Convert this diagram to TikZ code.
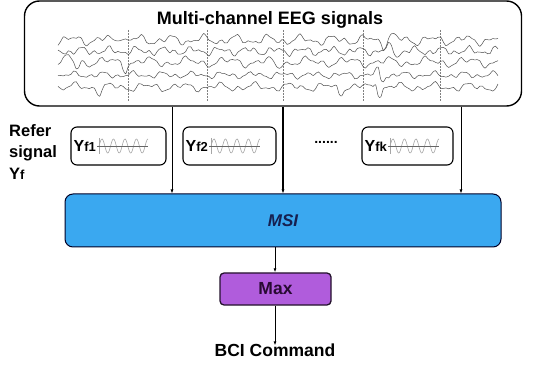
\documentclass[tikz,border=0pt]{standalone}
\usepackage{fontspec}
\setmainfont{Liberation Sans}
\usetikzlibrary{arrows.meta,calc}

\definecolor{msiblue}{RGB}{58,168,240}
\definecolor{maxpurple}{RGB}{176,92,220}
\definecolor{msitext}{RGB}{22,32,80}
\definecolor{maxtext}{RGB}{40,10,50}
\definecolor{eegline}{RGB}{80,80,80}

\tikzset{
  bigbox/.style={draw=black, line width=1.4pt, rounded corners=15pt, inner sep=0pt},
  refbox/.style={draw=black, line width=1.1pt, rounded corners=6pt, inner sep=0pt,
                 minimum width=93pt, minimum height=38pt},
  msibox/.style={draw=black!85!blue, line width=1pt, rounded corners=8pt, fill=msiblue,
                 inner sep=0pt},
  maxbox/.style={draw=black!80!maxpurple, line width=1.3pt, rounded corners=4pt, fill=maxpurple,
                 inner sep=0pt},
  lbl/.style={font=\fontsize{17}{20}\selectfont\bfseries, inner sep=0pt},
  yname/.style={font=\fontsize{16}{18}\selectfont\bfseries, inner sep=0pt, anchor=west},
  arr/.style={-{Latex[length=4pt,width=3pt]}, line width=0.9pt},
  trace/.style={eegline, line width=0.5pt},
  marker/.style={gray, line width=0.5pt, densely dotted},
  wave/.style={black!35, line width=0.6pt},
  axisline/.style={black!60, line width=0.7pt},
  declare function={
    sp(\a,\c,\w) = max(0, 1 - abs(\a - \c)/\w);
    wv(\a,\f,\p) = sin(mod(\f*\a + \p, 6.283185) r);
  },
}

\newcommand{\ysig}[2]{Y\raisebox{-0.5pt}{\fontsize{13}{13}\selectfont #1#2}}

\begin{document}
\begin{tikzpicture}[x=1pt, y=-1pt]
  \useasboundingbox (0,0) rectangle (541,366);

  % EEG panel
  \node[bigbox, minimum width=497pt, minimum height=105pt] (eeg) at (273,53.5) {};
  \node[lbl, font=\fontsize{18}{20}\selectfont\bfseries] (title) at (270,20) {Multi-channel EEG signals};

  % time markers
  \foreach \mx in {128,207,283,363,440}
    \draw[marker] (\mx,30) -- (\mx,101);

  % five EEG channels
  \draw[trace] plot[smooth, domain=58:498, samples=170]
    (\x, {40 - 3.2*wv(\x,0.192,0.3) - 2.2*wv(\x,0.401,1.2) - 1.3*wv(\x,0.716,0.2) - 6*sp(\x,120,5) - 6*sp(\x,392,5) + 5*sp(\x,384,4)});
  \draw[trace] plot[smooth, domain=58:498, samples=170]
    (\x, {51 - 2.6*wv(\x,0.227,1.9) - 2*wv(\x,0.471,0.7) - 1.2*wv(\x,0.785,3.5) - 5*sp(\x,390,5) + 5*sp(\x,398,4)});
  \draw[trace] plot[smooth, domain=58:498, samples=170]
    (\x, {62 - 3*wv(\x,0.157,3.5) - 2.3*wv(\x,0.367,2.6) - 1.3*wv(\x,0.681,1.6) + 7*sp(\x,77,4) + 7*sp(\x,125,4) + 6*sp(\x,277,5) - 5*sp(\x,69,4)});
  \draw[trace] plot[smooth, domain=58:498, samples=170]
    (\x, {75 - 2*wv(\x,0.209,5.2) - 1.6*wv(\x,0.436,0.3) - 1*wv(\x,0.750,2.1) - 6*sp(\x,378,4) + 8*sp(\x,382,4)});
  \draw[trace] plot[smooth, domain=58:498, samples=170]
    (\x, {87 - 2.6*wv(\x,0.175,1.0) - 2*wv(\x,0.384,4.4) - 1.2*wv(\x,0.698,5.2) + 8*sp(\x,340,4) + 10*sp(\x,380,4) - 7*sp(\x,376,3) + 6*sp(\x,100,5)});

  % reference signal label
  \node[lbl, align=left, anchor=north west, font=\fontsize{16.5}{21.5}\selectfont\bfseries]
    (refer) at (9,124) {Refer\\signal\\Y\raisebox{-0.5pt}{\fontsize{13}{13}\selectfont f}};

  % reference signal boxes
  \node[refbox, minimum width=95pt] (r1) at (118.5,146) {};
  \node[refbox] (r2) at (229.5,146) {};
  \node[refbox, minimum width=91pt] (r3) at (407.5,146) {};
  \node[yname] (r1t) at ([xshift=3pt]r1.west) {\ysig{f}{1}};
  \node[yname] (r2t) at ([xshift=3pt]r2.west) {\ysig{f}{2}};
  \node[yname] (r3t) at ([xshift=3pt]r3.west) {\ysig{f}{k}};
  \node[lbl, font=\fontsize{14}{16}\selectfont\bfseries] (dots) at (326,142) {......};

  \foreach \t/\b in {r1t/r1, r2t/r2, r3t/r3} {
    \begin{scope}[shift={(\t.east |- \b.center)}]
      \draw[wave] (3,-8) -- (3,8);
      \draw[wave] plot[smooth, domain=3:52, samples=80] (\x, {-7*sin((\x-3)*31.3)});
      \draw[axisline] (1,0) -- (52,0);
    \end{scope}
  }

  % MSI stage
  \node[msibox, minimum width=436pt, minimum height=53pt] (msi) at (283,220.5)
    {\fontsize{17}{20}\selectfont\bfseries\itshape\color{msitext}MSI};

  % max selection
  \node[maxbox, minimum width=111pt, minimum height=32pt] (max) at (275.5,289)
    {\fontsize{17.5}{20}\selectfont\bfseries\color{maxtext}Max};

  \node[lbl, font=\fontsize{17.5}{20}\selectfont\bfseries] (bci) at (275,350) {BCI Command};

  % connectors
  \coordinate (c1) at (172,0);
  \coordinate (c2) at (283,0);
  \coordinate (c3) at (461,0);
  \coordinate (c4) at (275,0);
  \draw[arr] (c1 |- eeg.south) -- (c1 |- msi.north);
  \draw[arr, line width=1.4pt] (c2 |- eeg.south) -- (c2 |- msi.north);
  \draw[arr] (c3 |- eeg.south) -- (c3 |- msi.north);
  \draw[arr] (c4 |- msi.south) -- (c4 |- max.north);
  \draw[arr] (c4 |- max.south) -- ([yshift=-2pt]bci.north -| c4);
\end{tikzpicture}
\end{document}
